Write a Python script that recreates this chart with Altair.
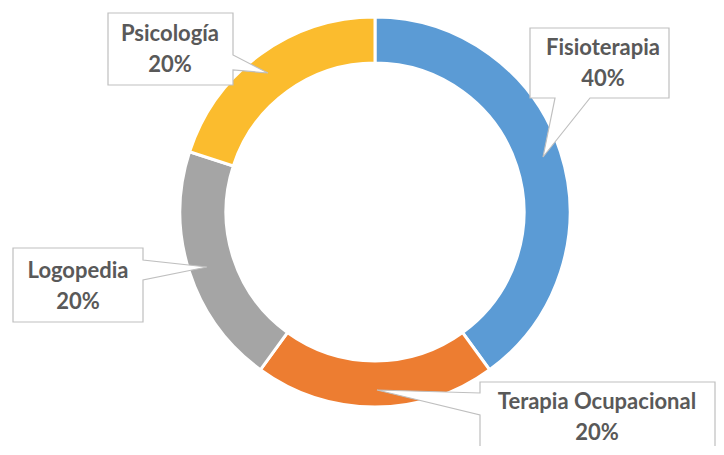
import altair as alt
import pandas as pd

# ---- data ----
categories = ["Fisioterapia", "Terapia Ocupacional", "Logopedia", "Psicología"]
shares = [40, 20, 20, 20]
colors = ["#5B9BD5", "#ED7D31", "#A5A5A5", "#FBBC2E"]

# ---- layout (page pixels) ----
M = 8  # page margin
center = (375, 212)
r_outer, r_inner = 195, 149

# callout boxes: (left, top, right, bottom), pointer (base1, tip, base2) in clockwise drawing order
callouts = {
    "Psicología": dict(box=(108, 13, 233, 85), edge="right", ptr=[(233, 55), (268, 73), (233, 70)], text=(170, 34)),
    "Fisioterapia": dict(box=(530, 28, 669, 98), edge="bottom", ptr=[(590, 98), (543, 157), (555, 98)], text=(603, 48)),
    "Logopedia": dict(box=(13, 248, 143, 322), edge="right", ptr=[(143, 260), (207, 267), (143, 280)], text=(78, 271)),
    "Terapia Ocupacional": dict(box=(480, 382, 715, 462), edge="left", ptr=[(480, 415), (377, 390), (480, 393)], text=(597, 402)),
}


def callout_path(c):
    L, T, R, B = c["box"]
    cx, cy = (L + R) / 2, (T + B) / 2
    pts = [(L, T), (R, T)]
    if c["edge"] == "right":
        pts += c["ptr"]
    pts += [(R, B)]
    if c["edge"] == "bottom":
        pts += c["ptr"]
    pts += [(L, B)]
    if c["edge"] == "left":
        pts += c["ptr"]
    d = "M" + " L".join(f"{x - cx:.1f},{y - cy:.1f}" for x, y in pts) + " Z"
    return cx, cy, d


df = pd.DataFrame({"cat": categories, "val": shares, "idx": list(range(len(categories)))})

rows = []
for cat, val in zip(categories, shares):
    c = callouts[cat]
    cx, cy, d = callout_path(c)
    rows.append(dict(cat=cat, bx=cx - M, by=cy - M, path=d,
                     tx=c["text"][0] - M, ty=c["text"][1] - M,
                     label=f"{cat}\n{val}%"))
lab = pd.DataFrame(rows)

ring = alt.Chart(df).mark_arc(radius=r_outer, radius2=r_inner, stroke="white", strokeWidth=3).encode(
    theta=alt.Theta("val:Q", stack=True),
    color=alt.Color("cat:N", scale=alt.Scale(domain=categories, range=colors), legend=None),
    order=alt.Order("idx:Q"),
    x=alt.value(center[0] - M),
    y=alt.value(center[1] - M),
)

boxes = alt.Chart(lab).mark_point(
    size=4, fill="white", fillOpacity=1, stroke="#BFBFBF", strokeWidth=1.2, opacity=1, filled=False
).encode(
    x=alt.X("bx:Q", scale=None, axis=None),
    y=alt.Y("by:Q", scale=None, axis=None),
    shape=alt.Shape("path:N", scale=None, legend=None),
)

texts = alt.Chart(lab).mark_text(
    font="Lato", fontSize=22, fontWeight="bold", color="#595959", lineBreak="\n", lineHeight=31,
    align="center", baseline="middle"
).encode(
    x=alt.X("tx:Q", scale=None, axis=None),
    y=alt.Y("ty:Q", scale=None, axis=None),
    text="label:N",
)

chart = alt.layer(ring, boxes, texts).properties(
    width=708, height=438, padding=0, autosize=alt.AutoSizeParams(type="none")
).configure_view(stroke=None)

chart.save("out.html", embed_options={"renderer": "svg", "actions": False})
